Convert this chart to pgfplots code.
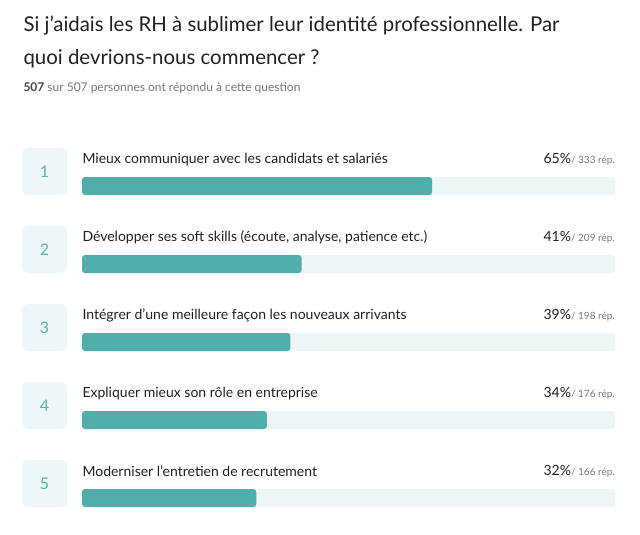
\documentclass[border=0pt]{standalone}
\usepackage{pgfplots}
\pgfplotsset{compat=1.18}
\usepackage{fontspec}
\setmainfont{Lato}
\definecolor{barc}{RGB}{82,174,171}
\definecolor{trackc}{RGB}{236,246,247}
\definecolor{boxc}{RGB}{238,247,248}
\definecolor{numc}{RGB}{86,180,176}
\definecolor{titlec}{RGB}{34,34,34}
\definecolor{subc}{RGB}{120,120,120}
\begin{document}
\begin{tikzpicture}[x=1bp,y=-1bp]
\fill[white] (0,0) rectangle (640,535);
\begin{axis}[
  at={(82bp,0bp)}, anchor=north west,
  scale only axis, width=533bp, height=535bp,
  xmin=0, xmax=100, ymin=0, ymax=535, y dir=reverse,
  hide axis, clip=false,
  xbar, bar width=18bp, bar shift=0pt,
]
\addplot[fill=trackc, draw=none, rounded corners=3bp] coordinates {(100,186) (100,264) (100,342) (100,420) (100,498)};
\addplot[fill=barc, draw=none, rounded corners=3bp] coordinates {(65.7,186) (41.2,264) (39.1,342) (34.7,420) (32.7,498)};
\end{axis}
% title
\node[anchor=west, text=titlec, font=\fontsize{20.4bp}{24bp}\selectfont] at (20,26) {Si j’aidais les RH à sublimer leur identité professionnelle. Par};
\node[anchor=west, text=titlec, font=\fontsize{20.4bp}{24bp}\selectfont] at (20,59) {quoi devrions-nous commencer ?};
\node[anchor=west, text=subc, font=\fontsize{12bp}{14bp}\selectfont] at (20,88) {\textcolor{titlec!85}{\bfseries 507} sur 507 personnes ont répondu à cette question};
% rows
\foreach \i/\lab/\pc/\rep in {
  1/{Mieux communiquer avec les candidats et salariés}/65/333,
  2/{Développer ses soft skills (écoute, analyse, patience etc.)}/41/209,
  3/{Intégrer d’une meilleure façon les nouveaux arrivants}/39/198,
  4/{Expliquer mieux son rôle en entreprise}/34/176,
  5/{Moderniser l'entretien de recrutement}/32/166}{
  \pgfmathsetmacro{\yo}{78*(\i-1)}
  \fill[boxc, rounded corners=6bp] (22,148+\yo) rectangle (67,195+\yo);
  \node[text=numc, font=\fontsize{16bp}{18bp}\selectfont] at (44.5,172+\yo) {\i};
  \node[anchor=west, text=titlec, font=\fontsize{14bp}{16bp}\selectfont] at (79,159.5+\yo) {\lab};
  \node[anchor=east, inner xsep=0pt, text=titlec, font=\fontsize{14bp}{16bp}\selectfont] at (615,159.5+\yo) {\pc\%{\color{subc}\fontsize{10bp}{12bp}\selectfont/ \rep\ rép.}};
}
\end{tikzpicture}
\end{document}
